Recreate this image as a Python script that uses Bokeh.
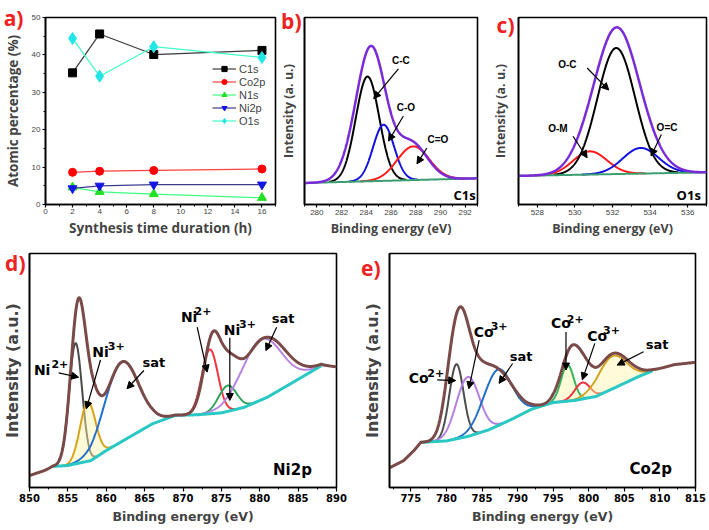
import numpy as np
from bokeh.plotting import figure
from bokeh.models import (Range1d, SingleIntervalTicker, FixedTicker, Label, Arrow,
                          NormalHead, Legend, LegendItem, LinearAxis)
from bokeh.layouts import row, column
from bokeh.embed import file_html
from bokeh.resources import INLINE

# ---------------- panel a : atomic percentages ----------------
time_h = [2, 4, 8, 16]
c1s = [35.2, 45.6, 40.1, 41.2]
co2p = [8.6, 8.9, 9.1, 9.5]
n1s = [4.6, 3.4, 2.8, 1.8]
ni2p = [4.3, 5.0, 5.3, 5.3]
o1s = [44.4, 34.3, 42.2, 39.3]
series_names = ["C1s", "Co2p", "N1s", "Ni2p", "O1s"]

# ---------------- panel b : C1s ----------------
b_bg_x = [279, 293]
b_bg_y = [11.5, 14.0]
b_centers = [284.1, 285.4, 287.8]
b_heights = [56, 30, 18]
b_sigmas = [0.95, 0.85, 1.3]
b_env_centers = [282.8, 284.4, 287.6]
b_env_heights = [5, 70, 20]
b_env_sigmas = [1.0, 1.15, 1.3]

# ---------------- panel c : O1s ----------------
c_bg_x = [527, 537]
c_bg_y = [15.3, 17.2]
c_centers = [530.8, 532.2, 533.5]
c_heights = [12.4, 67.4, 13.7]
c_sigmas = [0.9, 1.0, 0.95]
c_env_centers = [530.8, 532.2, 533.5]
c_env_heights = [12.4, 67.5, 14.5]
c_env_sigmas = [0.95, 1.05, 1.05]

# ---------------- panel d : Ni2p ----------------
d_bg_x = [850, 852, 853, 855, 858, 860, 863, 866, 869, 872, 875, 878, 881, 884, 888, 890]
d_bg_y = [5.1, 7.3, 9.0, 9.4, 11.5, 15.8, 21.5, 27.2, 30.8, 31.1, 31.9, 34.3, 38.6, 44.3, 52.0, 51.5]
d_centers = [856.0, 857.6, 862.0, 873.5, 875.8, 880.2]
d_heights = [51.6, 25.5, 34, 27.5, 11, 26]
d_sigmas = [0.85, 1.0, 2.2, 1.05, 1.2, 2.6]
d_env_centers = [856.3, 858.0, 862.0, 873.8, 876.0, 880.5]
d_env_heights = [64, 20, 34, 30.5, 14, 26]
d_env_sigmas = [0.95, 1.0, 2.2, 1.1, 1.2, 2.8]

# ---------------- panel e : Co2p ----------------
e_bg_x = [772, 774, 775.5, 776.4, 780, 783, 786, 789, 792, 795, 798, 801, 804, 807, 809, 812, 815]
e_bg_y = [8.4, 11.5, 16.0, 19.3, 19.9, 21.8, 24.7, 28.9, 33.5, 36.3, 37.2, 38.9, 43.1, 47.4, 49.9, 52.5, 53.5]
e_centers = [781.4, 783.0, 787.2, 797.0, 799.1, 803.3]
e_heights = [31.9, 25.4, 24, 15.5, 7, 14]
e_sigmas = [1.0, 1.6, 2.0, 0.9, 1.1, 2.0]
e_env_centers = [780.5, 781.9, 784.5, 787.3, 797.4, 799.3, 803.3]
e_env_heights = [8, 48, 15, 21, 20, 9, 15]
e_env_sigmas = [1.0, 1.4, 1.6, 2.2, 1.3, 1.2, 2.2]

RED = "#ee2222"
BOLD_AB = "Open Sans"
TICK_AB = "Liberation Sans"
DV = "DejaVu Sans"


def gauss(x, c, h, s):
    return h * np.exp(-0.5 * ((x - c) / s) ** 2)


def base_fig(w, h, lb, rb, tb, bb, xr, yr):
    p = figure(width=w, height=h, x_range=Range1d(*xr), y_range=Range1d(*yr),
               output_backend="svg", toolbar_location=None,
               min_border_left=lb, min_border_right=rb, min_border_top=tb, min_border_bottom=bb)
    p.xgrid.visible = False
    p.ygrid.visible = False
    p.outline_line_color = "black"
    p.outline_line_width = 1.6
    p.outline_line_alpha = 1.0
    p.background_fill_color = "white"
    p.border_fill_color = "white"
    for ax in (p.xaxis[0], p.yaxis[0]):
        ax.axis_line_width = 1.6
        ax.axis_line_color = "black"
        ax.major_tick_line_width = 1.2
        ax.minor_tick_line_width = 1.0
        ax.major_tick_in = 0
        ax.minor_tick_in = 0
    return p


def letter_axis(ax, tick, letter, standoff):
    # panel letter drawn as the single tick label of a left axis
    ax.ticker = FixedTicker(ticks=[tick])
    ax.major_label_overrides = {tick: letter}
    ax.major_tick_out = 0
    ax.major_tick_in = 0
    ax.minor_tick_out = 0
    ax.minor_tick_in = 0
    ax.major_tick_line_color = None
    ax.minor_tick_line_color = None
    ax.major_label_standoff = standoff
    ax.major_label_text_font = BOLD_AB
    ax.major_label_text_font_style = "bold"
    ax.major_label_text_font_size = "21px"
    ax.major_label_text_color = RED


def arrow(p, x0, y0, x1, y1):
    p.add_layout(Arrow(x_start=x0, y_start=y0, x_end=x1, y_end=y1,
                       line_color="black", line_width=1.2,
                       end=NormalHead(size=7, fill_color="black", line_color="black", line_width=1)))


def txt(p, x, y, s, font, size, align="center"):
    p.add_layout(Label(x=x, y=y, text=s, text_font=font, text_font_style="bold",
                       text_font_size=size, text_color="black",
                       text_align=align, text_baseline="middle"))


def draw_spectrum(p, xr, bgx, bgy, cen, hei, sig, cols, ecen, ehei, esig,
                  env_color, bg_color, comp_w, env_w, bg_w, bg_lim, fill_idx=()):
    x = np.linspace(xr[0], xr[1], 900)
    for i, (c, h, s, col) in enumerate(zip(cen, hei, sig, cols)):
        m = np.abs(x - c) <= 3.3 * s
        xs = x[m]
        base = np.interp(xs, bgx, bgy)
        ys = base + gauss(xs, c, h, s)
        if i in fill_idx:
            p.varea(x=xs, y1=base, y2=ys, fill_color="#fff3a8", fill_alpha=0.45)
        p.line(xs, ys, line_color=col, line_width=comp_w)
    mb = (x >= bg_lim[0]) & (x <= bg_lim[1])
    p.line(x[mb], np.interp(x[mb], bgx, bgy), line_color=bg_color, line_width=bg_w)
    env = np.interp(x, bgx, bgy)
    for c, h, s in zip(ecen, ehei, esig):
        env = env + gauss(x, c, h, s)
    p.line(x, env, line_color=env_color, line_width=env_w)


def style_top_spec(p, tick, letter, lab_sd, ylabel_sd):
    p.xaxis.ticker = SingleIntervalTicker(interval=2, num_minor_ticks=2)
    p.xaxis.major_tick_out = 3
    p.xaxis.minor_tick_out = 2
    p.xaxis.major_label_standoff = 2
    p.xaxis.major_label_text_font = TICK_AB
    p.xaxis.major_label_text_font_size = "8px"
    p.xaxis.axis_label = "Binding energy (eV)"
    p.xaxis.axis_label_standoff = 2
    p.xaxis.axis_label_text_font = BOLD_AB
    p.xaxis.axis_label_text_font_style = "bold"
    p.xaxis.axis_label_text_font_size = "12.5px"
    ax = p.yaxis[0]
    letter_axis(ax, tick, letter, lab_sd)
    ax.axis_label = "Intensity (a. u.)"
    ax.axis_label_standoff = ylabel_sd
    ax.axis_label_text_font = BOLD_AB
    ax.axis_label_text_font_style = "bold"
    ax.axis_label_text_font_size = "12.5px"


def style_bottom_spec(p, tick, letter, lab_sd, ylabel_sd):
    p.xaxis.ticker = SingleIntervalTicker(interval=5, num_minor_ticks=2)
    p.xaxis.major_tick_out = 4
    p.xaxis.minor_tick_out = 2
    p.xaxis.major_label_standoff = 2
    p.xaxis.major_label_text_font = DV
    p.xaxis.major_label_text_font_style = "bold"
    p.xaxis.major_label_text_font_size = "10px"
    p.xaxis.major_label_text_color = "black"
    p.xaxis.axis_label = "Binding energy (eV)"
    p.xaxis.axis_label_standoff = 4
    p.xaxis.axis_label_text_font = DV
    p.xaxis.axis_label_text_font_style = "bold"
    p.xaxis.axis_label_text_font_size = "12.5px"
    ax = p.yaxis[0]
    letter_axis(ax, tick, letter, lab_sd)
    ax.axis_label = "Intensity (a.u.)"
    ax.axis_label_standoff = ylabel_sd
    ax.axis_label_text_font = DV
    ax.axis_label_text_font_style = "bold"
    ax.axis_label_text_font_size = "16px"


# ====================== panel a ======================
fa = base_fig(277, 240, 41, 2, 17, 35, (0, 17), (0, 50))
fa.xaxis.ticker = SingleIntervalTicker(interval=2, num_minor_ticks=2)
fa.yaxis.ticker = SingleIntervalTicker(interval=10, num_minor_ticks=2)
for ax in (fa.xaxis[0], fa.yaxis[0]):
    ax.major_tick_out = 3
    ax.minor_tick_out = 2
    ax.major_label_text_font = TICK_AB
    ax.major_label_text_font_size = "8px"
fa.xaxis.major_label_standoff = 1
fa.yaxis.major_label_standoff = 2
fa.xaxis.axis_label = "Synthesis time duration (h)"
fa.xaxis.axis_label_standoff = 2
fa.xaxis.axis_label_text_font = BOLD_AB
fa.xaxis.axis_label_text_font_style = "bold"
fa.xaxis.axis_label_text_font_size = "13.5px"
ya2 = LinearAxis(axis_line_color=None)
letter_axis(ya2, 50, "a)", 5)
ya2.axis_label = "Atomic percentage (%)"
ya2.axis_label_standoff = -21
ya2.axis_label_text_font = BOLD_AB
ya2.axis_label_text_font_style = "bold"
ya2.axis_label_text_font_size = "13.5px"
fa.add_layout(ya2, "left")

specs = [
    (c1s, "#3a3a3a", "square", "#000000", 8),
    (co2p, "#ff4040", "circle", "#ff0000", 8),
    (n1s, "#40ff80", "triangle", "#22e022", 9),
    (ni2p, "#3c3c8c", "inverted_triangle", "#1414e6", 9),
    (o1s, "#40ffc8", "diamond", "#22e6e6", 12),
]
items = []
for name, (ys, lc, mk, mc, sz) in zip(series_names, specs):
    r1 = fa.line(time_h, ys, line_color=lc, line_width=1.2)
    r2 = fa.scatter(time_h, ys, marker=mk, size=sz, fill_color=mc, line_color=mc)
    items.append(LegendItem(label=name, renderers=[r1, r2]))
leg = Legend(items=items, location=(167, 77), border_line_color=None,
             background_fill_alpha=0, padding=0, margin=0, spacing=0,
             glyph_width=24, glyph_height=13, label_height=13, label_standoff=3,
             label_text_font=TICK_AB, label_text_font_size="11px")
fa.add_layout(leg)

# ====================== panel b ======================
fb = base_fig(211, 240, 26, 11, 15, 36, (279, 293), (0, 100))
style_top_spec(fb, 98, "b)", 3, -19)
draw_spectrum(fb, (279, 293), b_bg_x, b_bg_y, b_centers, b_heights, b_sigmas,
              ["#000000", "#1010e0", "#ff1a1a"], b_env_centers, b_env_heights, b_env_sigmas,
              "#7a2ad6", "#3a9e70", 2, 2.5, 2, (279, 293))
txt(fb, 286.8, 77.2, "C-C", TICK_AB, "10px")
txt(fb, 287.2, 51.9, "C-O", TICK_AB, "10px")
txt(fb, 289.8, 34.9, "C=O", TICK_AB, "10px")
arrow(fb, 286.6, 72.5, 284.6, 56.6)
arrow(fb, 287.0, 47.3, 285.8, 33.9)
arrow(fb, 288.9, 30.2, 288.1, 21.7)
txt(fb, 292.85, 5.0, "C1s", BOLD_AB, "13px", align="right")

# ====================== panel c ======================
fc = base_fig(221, 240, 26, 3, 15, 36, (527, 537), (0, 100))
style_top_spec(fc, 96, "c)", 4, -15)
draw_spectrum(fc, (527, 537), c_bg_x, c_bg_y, c_centers, c_heights, c_sigmas,
              ["#ff1a1a", "#000000", "#1010e0"], c_env_centers, c_env_heights, c_env_sigmas,
              "#7a2ad6", "#3a9e70", 2, 2.5, 2, (527, 537))
txt(fc, 529.6, 75.0, "O-C", TICK_AB, "10px")
txt(fc, 529.1, 40.4, "O-M", TICK_AB, "10px")
txt(fc, 534.9, 41.3, "O=C", TICK_AB, "10px")
arrow(fc, 530.65, 73.0, 531.8, 61.2)
arrow(fc, 529.9, 36.5, 530.65, 25.0)
arrow(fc, 534.6, 37.4, 534.05, 25.9)
txt(fc, 536.7, 5.3, "O1s", BOLD_AB, "13px", align="right")

# ====================== panel d ======================
fd = base_fig(358, 290, 29, 22, 13, 43, (850, 890), (0, 100))
style_bottom_spec(fd, 96, "d)", 4, -20)
draw_spectrum(fd, (850, 890), d_bg_x, d_bg_y, d_centers, d_heights, d_sigmas,
              ["#4a4a4a", "#d9a21b", "#1f6fd0", "#f0343c", "#2fa35a", "#b884e0"],
              d_env_centers, d_env_heights, d_env_sigmas,
              "#7a4a48", "#2ac8c4", 2, 3, 3, (853, 888), fill_idx=(1,))
for (bx, by, bs, sx, sy) in [(851.65, 50.3, "2+", 853.95, 52.9),
                             (859.25, 57.8, "3+", 861.3, 60.4),
                             (870.8, 72.8, "2+", 872.6, 75.6),
                             (876.4, 67.1, "3+", 878.4, 69.7)]:
    txt(fd, bx, by, "Ni", DV, "14px")
    txt(fd, sx, sy, bs, DV, "11px")
txt(fd, 866.2, 53.6, "sat", DV, "13px")
txt(fd, 883.05, 72.1, "sat", DV, "13px")
arrow(fd, 853.8, 49.0, 856.4, 47.1)
arrow(fd, 859.25, 54.5, 857.4, 33.6)
arrow(fd, 864.9, 50.0, 862.7, 42.2)
arrow(fd, 871.85, 68.5, 873.15, 49.3)
arrow(fd, 876.1, 64.0, 876.1, 37.2)
arrow(fd, 882.2, 68.5, 880.8, 58.5)
txt(fd, 886.8, 7.3, "Ni2p", DV, "15px", align="right")

# ====================== panel e ======================
fe = base_fig(351, 290, 31, 14, 13, 42, (772, 815), (0, 100))
style_bottom_spec(fe, 94, "e)", 9, -24)
draw_spectrum(fe, (772, 815), e_bg_x, e_bg_y, e_centers, e_heights, e_sigmas,
              ["#4d4d4d", "#b57ee0", "#1f6fc8", "#32b45a", "#f0303a", "#d4a020"],
              e_env_centers, e_env_heights, e_env_sigmas,
              "#7a4a48", "#2ac8c4", 2, 3, 3, (776.4, 809), fill_idx=(3, 5))
for (bx, by, bs, sx, sy) in [(776.1, 46.7, "2+", 778.5, 48.8),
                             (785.25, 66.5, "3+", 787.4, 68.9),
                             (796.1, 70.1, "2+", 798.1, 71.8),
                             (801.2, 64.7, "3+", 803.2, 67.2)]:
    txt(fe, bx, by, "Co", DV, "14px")
    txt(fe, sx, sy, bs, DV, "11px")
txt(fe, 790.5, 55.9, "sat", DV, "13px")
txt(fe, 809.6, 60.9, "sat", DV, "13px")
arrow(fe, 778.7, 46.0, 781.3, 45.7)
arrow(fe, 784.6, 63.0, 783.15, 42.2)
arrow(fe, 789.3, 53.0, 787.4, 44.5)
arrow(fe, 796.8, 66.5, 796.8, 50.2)
arrow(fe, 800.85, 61.6, 799.1, 46.0)
arrow(fe, 807.7, 58.0, 804.0, 52.3)
txt(fe, 811.7, 7.7, "Co2p", DV, "15px", align="right")

layout = column(row(fa, fb, fc), row(fd, fe))
open("out.html", "w").write(file_html(layout, INLINE))
